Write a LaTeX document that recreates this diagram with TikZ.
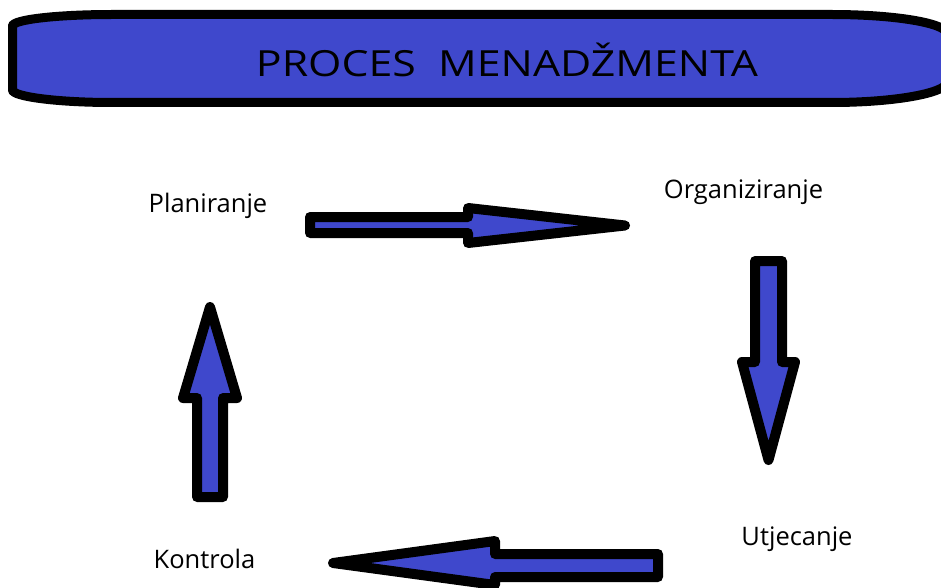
\documentclass[tikz,border=0pt]{standalone}
\usepackage{fontspec}
\setmainfont{Open Sans}
\definecolor{indigo}{HTML}{3F48CC}
\tikzset{
  banner/.style={fill=indigo, draw=black, line width=9pt},
  blockarrow/.style={fill=indigo, draw=black, line width=10pt, line join=round},
  lbl/.style={anchor=base, inner sep=0pt, font=\fontsize{25.5}{30}\selectfont},
  ttl/.style={anchor=base, inner sep=0pt, font=\fontsize{36}{42}\selectfont}
}
\begin{document}
\begin{tikzpicture}[x=1pt, y=-1pt]
\useasboundingbox (0,0) rectangle (941,588);
\clip (0,0) rectangle (941,588);
\fill[white] (0,0) rectangle (941,588);
% banner
\draw[banner] (12.5,26) .. controls (12.5,19.6) and (57,14.5) .. (112,14.5)
  -- (832,14.5) .. controls (895.5,14.5) and (947,23.2) .. (947,34)
  -- (947,82) .. controls (947,92.8) and (895.5,102.5) .. (832,102.5)
  -- (112,102.5) .. controls (57,102.5) and (12.5,96.6) .. (12.5,90) -- cycle;
\node[ttl] (title) at (507,77) {\scalebox{1.19}[1]{PROCES\ \ MENADŽMENTA}};
% labels
\node[lbl] (plan) at (208,212) {Planiranje};
\node[lbl] (org) at (743.5,198) {Organiziranje};
\node[lbl] (utj) at (797,545) {Utjecanje};
\node[lbl] (kon) at (204.5,568) {Kontrola};
% arrows
\draw[blockarrow] (310,217) -- (468,217) -- (468,208) -- (625,225.5) -- (468,243) -- (468,233) -- (310,233) -- cycle;
\draw[blockarrow] (755,261) -- (782,261) -- (782,362) -- (795,362) -- (768.5,460) -- (742,362) -- (755,362) -- cycle;
\draw[blockarrow] (658,554) -- (658,577) -- (495,577) -- (495,585) -- (333,563) -- (495,541) -- (495,554) -- cycle;
\draw[blockarrow] (197,497) -- (197,398) -- (183,398) -- (210,307) -- (237,398) -- (223,398) -- (223,497) -- cycle;
\end{tikzpicture}
\end{document}
